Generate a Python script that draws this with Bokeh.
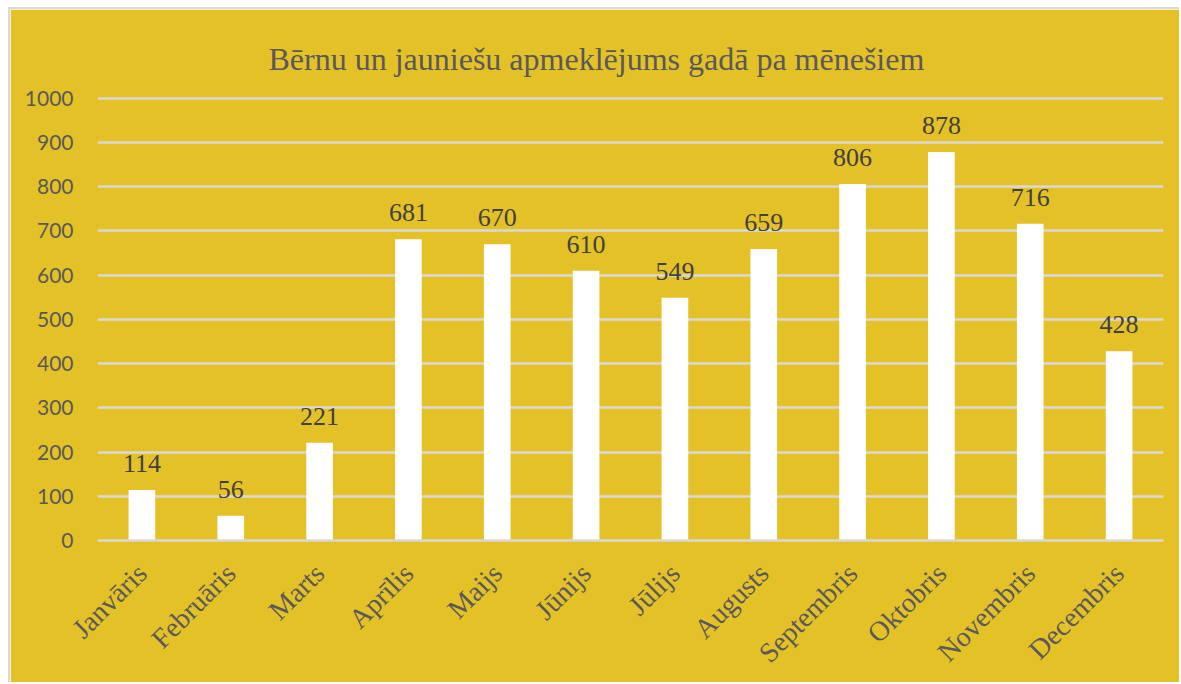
import math
from bokeh.plotting import figure
from bokeh.models import ColumnDataSource, FactorRange, Range1d, SingleIntervalTicker, LabelSet
from bokeh.embed import file_html
from bokeh.resources import INLINE
from bokeh.core.properties import value

months = ["Janvāris", "Februāris", "Marts", "Aprīlis", "Maijs", "Jūnijs",
          "Jūlijs", "Augusts", "Septembris", "Oktobris", "Novembris", "Decembris"]
visits = [114, 56, 221, 681, 670, 610, 549, 659, 806, 878, 716, 428]
title_text = "Bērnu un jauniešu apmeklējums gadā pa mēnešiem"

YELLOW = "#E5C128"
GRID = "#D9D9D9"
TXT = "#595959"

src = ColumnDataSource(dict(m=months, v=visits, lbl=[str(x) for x in visits]))

p = figure(x_range=FactorRange(*months, range_padding=0), y_range=Range1d(0, 1006),
           width=1171, height=675, output_backend="svg", toolbar_location=None,
           min_border_left=87, min_border_right=18, min_border_top=86, min_border_bottom=144)
p.margin = (7, 0, 0, 8)
p.styles = {"border-top": "2px solid #D9D9D9", "border-left": "2px solid #D9D9D9"}
p.background_fill_color = YELLOW
p.border_fill_color = YELLOW
p.outline_line_color = YELLOW
p.outline_line_width = 1.5

p.vbar(x="m", top="v", width=0.3, source=src, fill_color="white", line_color=None)

labels = LabelSet(x="m", y="v", text="lbl", source=src, text_align="center",
                  text_baseline="alphabetic", y_offset=18,
                  text_font=value("Liberation Serif"), text_font_size="26px",
                  text_color="#404040")
p.add_layout(labels)

p.title.text = title_text
p.title.align = "left"
p.title.offset = 171
p.title.text_font = "Liberation Serif"
p.title.text_font_size = "32px"
p.title.text_font_style = "normal"
p.title.text_color = TXT
p.title.standoff = 37

p.xgrid.grid_line_color = None
p.ygrid.grid_line_color = GRID
p.ygrid.grid_line_width = 2.5
p.yaxis.ticker = SingleIntervalTicker(interval=100)
p.yaxis.axis_line_color = None
p.yaxis.major_tick_line_color = None
p.yaxis.minor_tick_line_color = None
p.yaxis.major_tick_out = 0
p.yaxis.major_label_standoff = 20
p.yaxis.major_label_text_font = "Lato"
p.yaxis.major_label_text_font_size = "21px"
p.yaxis.major_label_text_color = TXT

p.xaxis.axis_line_color = GRID
p.xaxis.axis_line_width = 2.5
p.xaxis.major_tick_line_color = None
p.xaxis.major_tick_out = 0
p.xaxis.major_label_orientation = math.pi / 4
p.xaxis.major_label_standoff = 28
p.xaxis.major_label_text_font = "Liberation Serif"
p.xaxis.major_label_text_font_size = "28px"
p.xaxis.major_label_text_color = TXT

open("out.html", "w").write(file_html(p, INLINE))
